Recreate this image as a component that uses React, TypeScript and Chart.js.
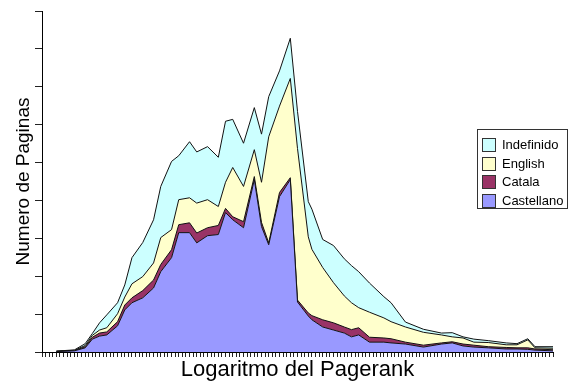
import React, { useEffect, useRef } from "react";
import { Chart, registerables } from "chart.js";

Chart.register(...registerables);

// x positions (log pagerank bins) where the series values were read
const xs = [4, 9, 12, 14, 16, 18, 21, 23, 25, 28, 31, 33, 36, 38, 41, 43, 46, 49, 51, 53, 56, 59, 61, 63, 66, 69, 71, 74, 75, 78, 81, 84, 86, 88, 91, 95, 97, 101, 106, 111, 114, 117, 120, 124, 129, 132, 135, 137, 142];

const castellano = [1, 3, 11, 34, 42, 45, 69, 111, 130, 143, 169, 212, 249, 315, 315, 288, 307, 310, 368, 349, 328, 455, 331, 283, 410, 455, 132, 95, 85, 66, 58, 50, 40, 45, 26, 26, 24, 21, 13, 21, 24, 16, 13, 11, 8, 8, 7, 5, 3];
const catala = [0.5, 0.5, 3, 5, 8, 8, 11, 13, 13, 19, 21, 19, 21, 21, 26, 26, 21, 24, 11, 8, 16, 8, 11, 5, 11, 5, 5, 8, 11, 19, 19, 16, 19, 19, 13, 11, 11, 5, 5, 3, 3, 5, 5, 3, 4, 3, 4, 3, 3];
const english = [0.5, 1, 3, 5, 8, 11, 21, 21, 37, 37, 45, 71, 53, 66, 66, 79, 74, 50, 69, 130, 93, 71, 106, 280, 228, 262, 400, 201, 175, 138, 106, 82, 71, 53, 66, 53, 45, 40, 34, 21, 13, 16, 8, 11, 7, 8, 21, 3, 4];
const indefinido = [0.5, 1, 5, 5, 19, 34, 29, 32, 69, 90, 114, 135, 180, 116, 148, 135, 140, 130, 161, 127, 114, 111, 127, 106, 93, 106, 98, 93, 106, 74, 98, 98, 98, 95, 77, 56, 50, 13, 8, 5, 11, 3, 8, 5, 5, 3, 3, 3, 4];

const seriesNames = ["Castellano", "Catala", "English", "Indefinido"];
const seriesColors = ["#9999ff", "#993366", "#ffffcc", "#ccffff"];

const xMin = 0;
const xMax = 142;
const yMax = 900;
const yStep = 100;

const yTitle = "Numero de Paginas";
const xTitle = "Logaritmo del Pagerank";

const boxLegend = {
  id: "boxLegend",
  afterDraw(chart: any) {
    const ctx = chart.ctx;
    ctx.save();
    const bx = 477.5, by = 129.5, bw = 90, bh = 79;
    ctx.fillStyle = "#ffffff";
    ctx.fillRect(bx, by, bw, bh);
    ctx.strokeStyle = "#333333";
    ctx.lineWidth = 1;
    ctx.strokeRect(bx, by, bw, bh);
    const items = chart.data.datasets.slice().reverse();
    ctx.font = '13px "Liberation Sans", Arial, sans-serif';
    ctx.textBaseline = "middle";
    ctx.textAlign = "left";
    items.forEach((ds: any, k: number) => {
      const sy = 138 + k * 18.5;
      ctx.fillStyle = ds.backgroundColor;
      ctx.fillRect(482.5, Math.round(sy) + 0.5, 13, 13);
      ctx.strokeStyle = "#333333";
      ctx.strokeRect(482.5, Math.round(sy) + 0.5, 13, 13);
      ctx.fillStyle = "#000000";
      ctx.fillText(ds.label, 502, Math.round(sy) + 7.5);
    });
    ctx.restore();
  },
};

export default function App() {
  const ref = useRef<HTMLCanvasElement | null>(null);

  useEffect(() => {
    if (!ref.current) return;
    const seriesValues = [castellano, catala, english, indefinido];
    const datasets = seriesValues.map((vals, k) => ({
      label: seriesNames[k],
      data: xs.map((x, i) => ({ x, y: vals[i] })),
      backgroundColor: seriesColors[k],
      borderColor: "#111111",
      borderWidth: 1,
      pointRadius: 0,
      tension: 0,
      fill: k === 0 ? "origin" : "-1",
    }));
    const chart = new Chart(ref.current, {
      type: "line",
      data: { datasets },
      plugins: [boxLegend],
      options: {
        animation: false,
        responsive: false,
        maintainAspectRatio: false,
        layout: { padding: { top: 11, right: 19, left: 0, bottom: 0 } },
        plugins: {
          legend: { display: false },
          tooltip: { enabled: false },
        },
        scales: {
          x: {
            type: "linear",
            min: xMin,
            max: xMax,
            ticks: { display: false, stepSize: 1 },
            grid: {
              drawOnChartArea: false,
              drawTicks: true,
              tickLength: 5,
              color: "#222222",
            },
            border: { display: true, color: "#000000", width: 1 },
            title: {
              display: true,
              text: xTitle,
              color: "#000000",
              font: { family: '"Liberation Sans", Arial, sans-serif', size: 22 },
              padding: { top: 0, bottom: 0 },
            },
            afterFit: (s: any) => {
              s.height = 31;
            },
          },
          y: {
            stacked: true,
            min: 0,
            max: yMax,
            ticks: { display: false, stepSize: yStep },
            grid: {
              drawOnChartArea: false,
              drawTicks: true,
              tickLength: 7,
              color: "#222222",
            },
            border: { display: true, color: "#000000", width: 1 },
            title: {
              display: true,
              text: yTitle,
              color: "#000000",
              font: { family: '"Liberation Sans", Arial, sans-serif', size: 19 },
              padding: { top: 12.6, bottom: 0 },
            },
            afterFit: (s: any) => {
              s.width = 42;
            },
          },
        },
      },
    } as any);
    return () => chart.destroy();
  }, []);

  return (
    <div style={{ position: "fixed", left: 0, top: 0, width: 572, height: 383, background: "#fff" }}>
      <canvas ref={ref} width={572} height={383} style={{ width: 572, height: 383, display: "block" }} />
    </div>
  );
}
